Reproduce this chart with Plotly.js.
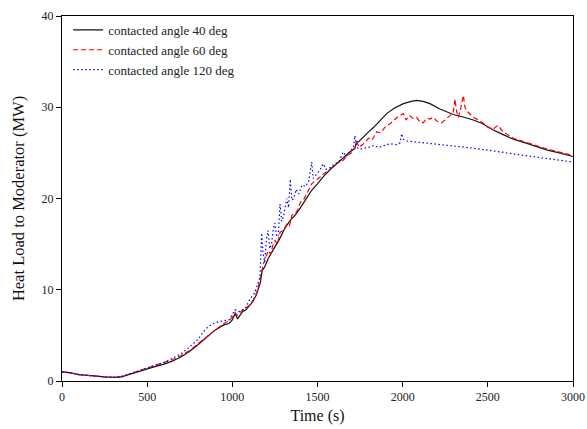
<!DOCTYPE html>
<html>
<head>
<meta charset="utf-8">
<script src="https://cdn.plot.ly/plotly-3.0.1.min.js"></script>
<style>html,body{margin:0;padding:0;background:#fff;}#chart{width:587px;height:429px;}</style>
</head>
<body>
<div id="chart"></div>
<script>
// ---- data ----
const seriesNames = ["contacted angle 40 deg", "contacted angle 60 deg", "contacted angle 120 deg"];

const time40 = [0,50,100,150,200,250,300,350,400,450,500,550,600,650,700,750,800,850,900,950,980,1000,1016,1031,1045,1060,1080,1100,1120,1140,1155,1165,1175,1190,1210,1230,1250,1270,1290,1310,1340,1370,1400,1430,1466,1500,1534,1570,1600,1632,1660,1690,1720,1728,1740,1770,1800,1830,1867,1906,1950,2004,2050,2082,2120,2160,2219,2297,2360,2415,2470,2532,2590,2650,2720,2787,2850,2920,3000];
const load40 = [1.0,0.9,0.7,0.6,0.5,0.45,0.4,0.45,0.75,1.05,1.35,1.6,1.85,2.2,2.65,3.25,4.0,4.85,5.6,6.15,6.3,6.7,7.4,6.8,7.2,7.6,7.8,8.2,8.7,9.4,10.2,10.8,12.1,12.5,13.4,14.1,14.7,15.3,16.0,16.8,17.6,18.2,19.0,19.9,20.9,21.6,22.4,23.1,23.6,24.2,24.7,25.1,25.5,26.2,26.2,26.8,27.3,27.8,28.5,29.3,29.9,30.4,30.65,30.75,30.65,30.4,29.8,29.2,28.9,28.6,28.2,27.5,27.0,26.5,26.1,25.7,25.3,25.0,24.6];

const time60 = [0,50,100,150,200,250,300,350,400,450,500,550,600,650,700,750,800,850,900,950,980,1000,1016,1030,1045,1060,1080,1100,1120,1140,1155,1165,1175,1182,1195,1211,1225,1240,1250,1265,1280,1300,1319,1335,1350,1368,1385,1400,1417,1440,1466,1490,1520,1534,1560,1590,1620,1651,1680,1700,1720,1730,1745,1770,1800,1820,1847,1870,1900,1926,1950,1975,2004,2020,2040,2060,2082,2100,2121,2140,2160,2180,2200,2229,2260,2297,2307,2317,2327,2340,2356,2366,2376,2395,2415,2435,2470,2500,2532,2550,2562,2580,2600,2650,2720,2787,2850,2920,3000];
const load60 = [1.0,0.9,0.7,0.6,0.5,0.45,0.4,0.5,0.8,1.1,1.4,1.7,2.0,2.35,2.8,3.35,4.1,4.9,5.6,6.3,6.6,7.0,7.5,7.2,7.5,7.8,8.0,8.3,8.8,9.5,10.5,11.5,12.4,12.8,13.5,14.3,13.9,15.0,15.4,15.0,16.3,16.5,17.2,17.0,18.2,18.3,18.8,19.6,19.8,20.6,21.6,22.0,22.4,22.7,23.0,23.5,23.9,24.2,24.8,25.0,25.6,26.2,25.6,26.0,26.6,26.4,27.3,27.2,27.9,28.2,28.6,29.0,29.3,28.6,29.1,28.8,28.9,28.4,28.3,28.8,28.7,28.9,28.5,28.3,28.8,29.4,30.9,29.5,28.9,29.8,31.3,30.0,29.6,29.3,28.9,28.7,28.3,27.8,27.6,27.9,28.0,27.5,27.2,26.6,26.2,25.8,25.4,25.1,24.7];

const time120 = [0,50,100,150,200,250,300,350,400,450,500,550,600,650,700,760,800,830,860,890,920,950,980,1000,1016,1040,1074,1104,1130,1143,1155,1162,1167,1172,1180,1190,1200,1210,1220,1230,1240,1250,1260,1270,1280,1290,1300,1320,1330,1340,1350,1360,1375,1390,1410,1430,1450,1466,1475,1490,1510,1534,1550,1575,1600,1625,1651,1670,1690,1710,1720,1730,1750,1769,1800,1828,1860,1890,1926,1960,1985,1994,2004,2024,2100,2200,2300,2400,2500,2600,2700,2800,2900,3000];
const load120 = [1.0,0.9,0.7,0.6,0.5,0.45,0.4,0.5,0.8,1.1,1.4,1.7,2.05,2.5,3.0,3.9,4.6,5.4,6.0,6.3,6.5,6.6,6.7,7.3,7.8,7.6,7.9,9.0,9.6,10.3,11.2,11.4,13.5,16.2,14.0,13.0,15.5,16.5,14.5,15.0,16.6,17.3,15.8,16.0,19.4,17.5,18.0,20.0,19.0,22.1,19.8,20.0,21.0,20.5,21.5,21.3,22.0,24.0,22.2,22.5,23.0,23.8,23.2,23.4,23.8,24.0,25.1,24.6,25.2,25.5,26.9,25.6,25.4,25.5,25.6,25.8,25.6,25.8,26.0,25.9,26.1,27.1,26.5,26.3,26.15,26.0,25.8,25.55,25.3,25.0,24.75,24.5,24.25,24.0];

const xTicks = [0,500,1000,1500,2000,2500,3000];
const yTicks = [0,10,20,30,40];

// ---- chart ----
const serif = "Liberation Serif, Times New Roman, serif";
const traces = [
  {x: time40, y: load40, name: seriesNames[0], mode: "lines", line: {color: "#111111", width: 1.2}},
  {x: time60, y: load60, name: seriesNames[1], mode: "lines", line: {color: "#ff0000", width: 1.2, dash: "5px,3px"}},
  {x: time120, y: load120, name: seriesNames[2], mode: "lines", line: {color: "#0000ff", width: 1.2, dash: "1.5px,2.5px"}}
];

const axisCommon = {
  showgrid: false, zeroline: false, showline: true, mirror: true,
  linecolor: "#000", linewidth: 1, ticks: "outside", ticklen: 5, tickcolor: "#000",
  tickfont: {family: serif, size: 12, color: "#222"}
};

const layout = {
  width: 587, height: 429,
  margin: {l: 62, r: 14, t: 16, b: 48},
  paper_bgcolor: "#fff", plot_bgcolor: "#fff",
  showlegend: true,
  legend: {x: 0.012, y: 1.003, xanchor: "left", yanchor: "top", bgcolor: "rgba(0,0,0,0)",
           font: {family: serif, size: 13, color: "#222"}, tracegroupgap: 0},
  xaxis: Object.assign({}, axisCommon, {range: [0, 3000], tickvals: xTicks,
           title: {text: "Time (s)", font: {family: serif, size: 16, color: "#111"}, standoff: 6}}),
  yaxis: Object.assign({}, axisCommon, {range: [0, 40], tickvals: yTicks,
           title: {text: "Heat Load to Moderator (MW)", font: {family: serif, size: 16.5, color: "#111"}, standoff: 12}})
};

Plotly.newPlot("chart", traces, layout, {displayModeBar: false, staticPlot: true});
</script>
</body>
</html>
